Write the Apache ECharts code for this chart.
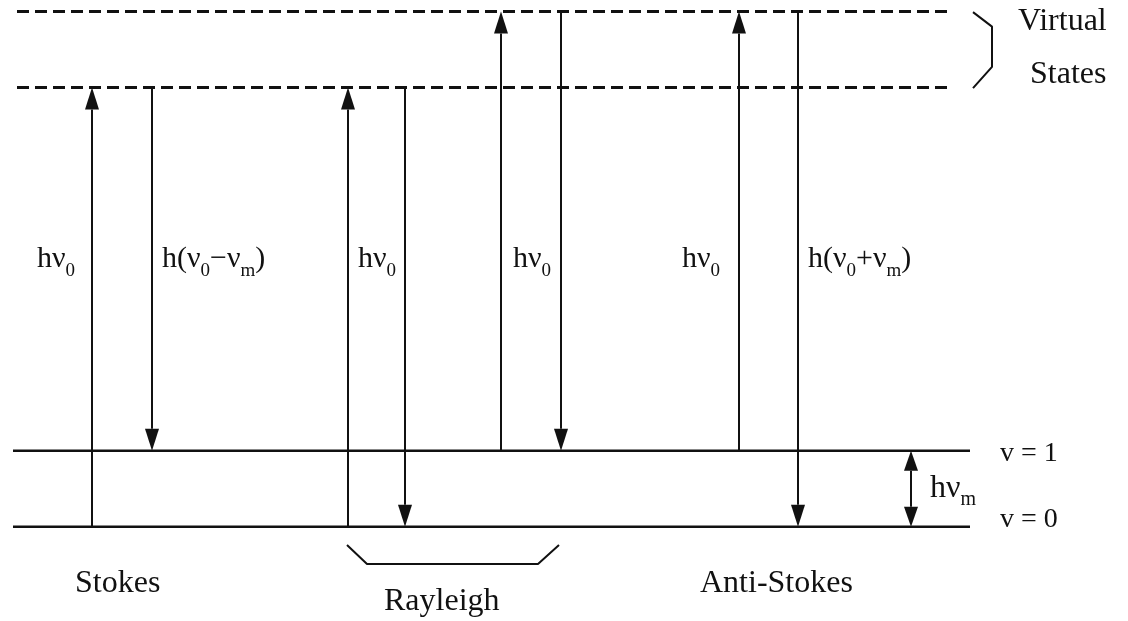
<!DOCTYPE html>
<html>
<head>
<meta charset="utf-8">
<title>Raman scattering energy levels</title>
<script src="https://cdn.jsdelivr.net/npm/echarts@6/dist/echarts.min.js"></script>
<style>
  html, body { margin: 0; padding: 0; background: #fff; }
  #chart { width: 1128px; height: 621px; }
</style>
</head>
<body>
<div id="chart"></div>
<script>
// energy levels (units of h*nu_m above v = 0)
const levelNames = ["v = 0", "v = 1", "virtual low", "virtual high"];
const levelEnergy = [0, 1, 5.78, 6.78];
const levelDashed = [false, false, true, true];
const levelStart = [13, 13, 17, 17];
const levelEnd = [970, 970, 953, 953];

// transitions: x position, from level index, to level index
const arrowX = [92, 152, 348, 405, 501, 561, 739, 798];
const arrowFrom = [0, 2, 0, 2, 1, 3, 1, 3];
const arrowTo = [2, 1, 2, 0, 3, 1, 3, 0];

// h*nu_m spacing marker
const gapX = 911;
const gapLevels = [1, 0];

// text labels
const labelText = [
  "{b|hν}{s|0}", "{b|h(ν}{s|0}{b|−ν}{s|m}{b|)}", "{b|hν}{s|0}", "{b|hν}{s|0}",
  "{b|hν}{s|0}", "{b|h(ν}{s|0}{b|+ν}{s|m}{b|)}", "{B|hν}{S|m}",
  "{v|v = 1}", "{v|v = 0}", "{t|Virtual}", "{t|States}",
  "{t|Stokes}", "{t|Rayleigh}", "{t|Anti-Stokes}"
];
const labelX = [37, 162, 358, 513, 682, 808, 930, 1000, 1000, 1018, 1030, 75, 384, 700];
const labelY = [3.52, 3.52, 3.52, 3.52, 3.52, 3.52, 0.50, 0.96, 0.09, 6.65, 5.95, -0.75, -0.99, -0.75];

// brace shapes
const rayleighBraceX = [347, 367, 538, 559];
const rayleighBraceY = [-0.24, -0.49, -0.49, -0.24];
const virtualBraceX = [973, 992, 992, 973];
const virtualBraceY = [6.77, 6.58, 6.05, 5.77];

const INK = "#111";
const SERIF = '"Liberation Serif", "Times New Roman", serif';

const chart = echarts.init(document.getElementById("chart"));

function arrowItem(params, api) {
  const x = api.value(0);
  const p0 = api.coord([x, api.value(1)]);
  const p1 = api.coord([x, api.value(2)]);
  const both = api.value(3) === 1;
  const dir = p1[1] > p0[1] ? 1 : -1;
  const len = both ? 20 : 22;
  const hw = 7;
  const tipBase = p1[1] - dir * len;
  const tailBase = p0[1] + dir * len;
  const children = [{
    type: "line",
    shape: { x1: p0[0], y1: both ? tailBase : p0[1], x2: p1[0], y2: tipBase },
    style: { stroke: INK, lineWidth: 2 }
  }, {
    type: "polygon",
    shape: { points: [[p1[0], p1[1]], [p1[0] - hw, tipBase], [p1[0] + hw, tipBase]] },
    style: { fill: INK }
  }];
  if (both) {
    children.push({
      type: "polygon",
      shape: { points: [[p0[0], p0[1]], [p0[0] - hw, tailBase], [p0[0] + hw, tailBase]] },
      style: { fill: INK }
    });
  }
  return { type: "group", children: children };
}

const richStyles = {
  b: { fontFamily: SERIF, fontSize: 30, lineHeight: 30, fill: INK },
  s: { fontFamily: SERIF, fontSize: 19, lineHeight: 19, padding: [23, 0, 0, 0], fill: INK },
  B: { fontFamily: SERIF, fontSize: 32, lineHeight: 32, fill: INK },
  S: { fontFamily: SERIF, fontSize: 20, lineHeight: 20, padding: [23, 0, 0, 0], fill: INK },
  v: { fontFamily: SERIF, fontSize: 28, lineHeight: 28, fill: INK },
  t: { fontFamily: SERIF, fontSize: 32, lineHeight: 32, fill: INK }
};

function labelItem(params, api) {
  const p = api.coord([api.value(0), api.value(1)]);
  return {
    type: "text",
    x: p[0],
    y: p[1],
    style: {
      text: labelText[api.value(2)],
      rich: richStyles,
      align: "left",
      verticalAlign: "middle",
      fill: INK
    }
  };
}

const series = [];

levelEnergy.forEach(function (e, i) {
  series.push({
    name: levelNames[i],
    type: "line",
    data: [[levelStart[i], e], [levelEnd[i], e]],
    symbol: "none",
    silent: true,
    lineStyle: {
      color: INK,
      width: levelDashed[i] ? 3 : 2.5,
      type: levelDashed[i] ? [12, 6] : "solid"
    }
  });
});

series.push({
  type: "line",
  data: rayleighBraceX.map(function (x, i) { return [x, rayleighBraceY[i]]; }),
  symbol: "none",
  silent: true,
  lineStyle: { color: INK, width: 2 }
});

series.push({
  type: "line",
  data: virtualBraceX.map(function (x, i) { return [x, virtualBraceY[i]]; }),
  symbol: "none",
  silent: true,
  lineStyle: { color: INK, width: 2 }
});

const arrowData = arrowX.map(function (x, i) {
  return [x, levelEnergy[arrowFrom[i]], levelEnergy[arrowTo[i]], 0];
});
arrowData.push([gapX, levelEnergy[gapLevels[0]], levelEnergy[gapLevels[1]], 1]);

series.push({
  type: "custom",
  renderItem: arrowItem,
  data: arrowData,
  silent: true,
  z: 3
});

series.push({
  type: "custom",
  renderItem: labelItem,
  data: labelX.map(function (x, i) { return [x, labelY[i], i]; }),
  silent: true,
  z: 4
});

chart.setOption({
  backgroundColor: "#fff",
  animation: false,
  grid: { left: 0, right: 0, top: 0, bottom: 0 },
  xAxis: { type: "value", min: 0, max: 1128, show: false },
  yAxis: { type: "value", min: -1.24, max: 6.93, show: false },
  series: series
});
</script>
</body>
</html>
